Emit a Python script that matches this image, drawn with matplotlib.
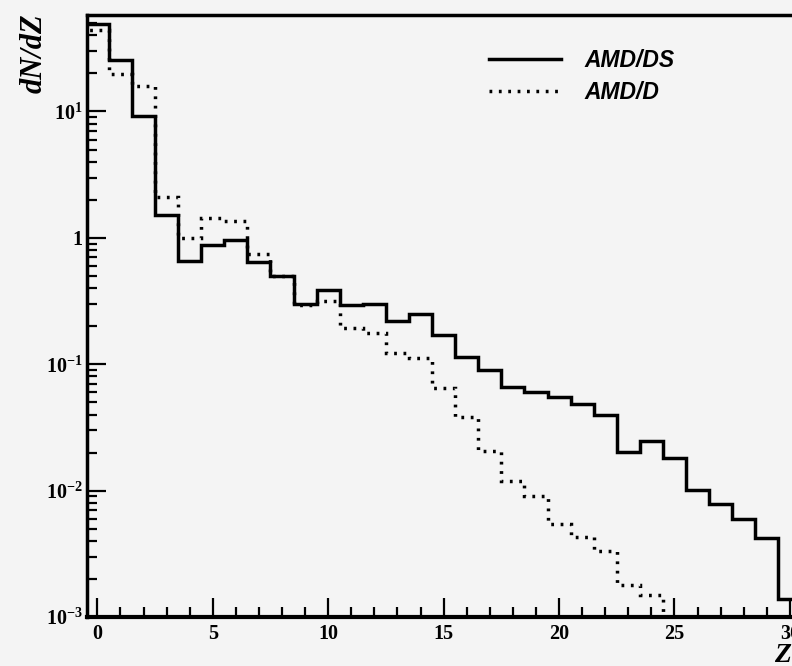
import matplotlib
matplotlib.use("Agg")
import matplotlib.pyplot as plt
from matplotlib.ticker import FixedLocator, FixedFormatter, LogLocator, MultipleLocator
import numpy as np

# bin centres are integer Z values, bins are one unit wide
z_ds = list(range(0, 31))
z_d = list(range(0, 25))

amd_ds = [
    49.5, 25.7, 9.2, 1.52, 0.66, 0.885, 0.96, 0.64, 0.5, 0.30,
    0.39, 0.292, 0.30, 0.218, 0.248, 0.169, 0.114, 0.0906, 0.0656, 0.060,
    0.0554, 0.0485, 0.0399, 0.0201, 0.0246, 0.0181, 0.0102, 0.0078, 0.0060, 0.0042,
    0.00139,
]

amd_d = [
    44.4, 19.9, 15.9, 2.1, 0.99, 1.44, 1.36, 0.74, 0.5, 0.295,
    0.319, 0.193, 0.177, 0.122, 0.111, 0.0645, 0.038, 0.0205, 0.012, 0.0091,
    0.0054, 0.0043, 0.0033, 0.0018, 0.0015,
]

series_labels = ["AMD/DS", "AMD/D"]
x_ticks = [0, 5, 10, 15, 20, 25, 30]
y_ticks = [1e-3, 1e-2, 1e-1, 1, 10]
y_tick_labels = [r"$10^{-3}$", r"$10^{-2}$", r"$10^{-1}$", "1", r"$10^{1}$"]

plt.rcParams["mathtext.fontset"] = "custom"
plt.rcParams["mathtext.rm"] = "Liberation Serif:bold"
plt.rcParams["mathtext.it"] = "Liberation Serif:bold:italic"
plt.rcParams["mathtext.bf"] = "Liberation Serif:bold"

bg = "#f4f4f4"
fig = plt.figure(figsize=(7.92, 6.66), dpi=100, facecolor=bg)
ax = fig.add_axes([0.1098, 0.0736, 0.9167, 0.9039], facecolor=bg)


def edges_for(z):
    return np.append(np.array(z) - 0.5, z[-1] + 0.5)


ax.stairs(amd_ds, edges_for(z_ds), baseline=1e-3, color="black", lw=2.5,
          label=series_labels[0])
ax.stairs(amd_d, edges_for(z_d), baseline=1e-3, color="black", lw=2.5,
          linestyle=(0, (0.8, 1.9)), label=series_labels[1])

ax.set_yscale("log")
ax.set_xlim(-0.45, 31)
ax.set_ylim(1e-3, 58)

ax.xaxis.set_major_locator(FixedLocator(x_ticks))
ax.xaxis.set_minor_locator(MultipleLocator(1))
ax.yaxis.set_major_locator(FixedLocator(y_ticks))
ax.yaxis.set_major_formatter(FixedFormatter(y_tick_labels))
ax.yaxis.set_minor_locator(LogLocator(base=10, subs=np.arange(2, 10)))
ax.yaxis.set_minor_formatter(plt.NullFormatter())

ax.tick_params(which="both", direction="in", top=False, right=False, width=1.6)
ax.tick_params(which="major", length=14)
ax.tick_params(which="minor", length=7)
ax.tick_params(axis="x", which="major", pad=5)
ax.tick_params(axis="y", which="major", pad=3)

for lab in ax.get_xticklabels() + ax.get_yticklabels():
    lab.set_fontfamily("Liberation Serif")
    lab.set_fontweight("bold")
    lab.set_fontsize(14.5)

for side in ["left", "bottom", "top", "right"]:
    ax.spines[side].set_linewidth(2.5)
ax.spines["bottom"].set_linewidth(3.0)

fig.text(0.025, 0.98, "dN/dZ", rotation=90, ha="left", va="top",
         fontfamily="Liberation Serif", fontweight="bold", fontstyle="italic",
         fontsize=22)

fig.text(0.977, 0.006, "Z", ha="left", va="baseline",
         fontfamily="Liberation Serif", fontweight="bold", fontstyle="italic",
         fontsize=20)

leg = ax.legend(loc="upper left", bbox_to_anchor=(0.592, 0.958),
                bbox_transform=fig.transFigure, frameon=False,
                handlelength=3.1, handletextpad=1.05, labelspacing=0.42,
                prop={"family": "Liberation Sans", "weight": "bold",
                      "style": "italic", "size": 16.5})

plt.savefig("out.png", dpi=100, facecolor=bg)
